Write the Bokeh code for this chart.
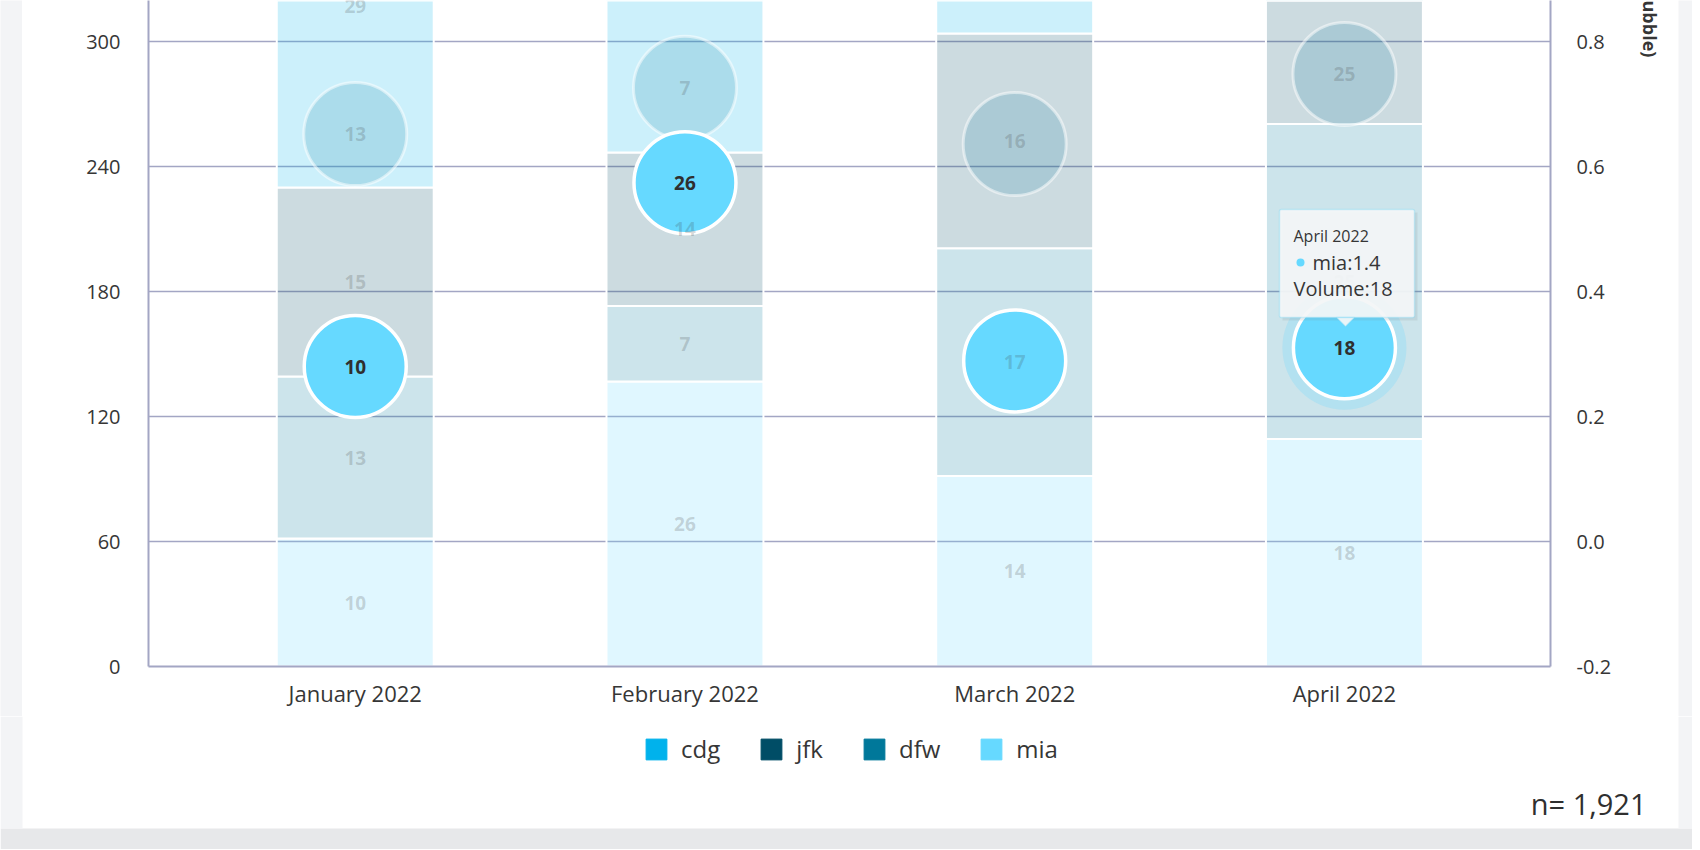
import numpy as np
from bokeh.plotting import figure
from bokeh.layouts import column, row
from bokeh.models import (ColumnDataSource, Range1d, LinearAxis, FixedTicker,
                          PrintfTickFormatter, Legend, LegendItem, Label,
                          BoxAnnotation, PolyAnnotation)
from bokeh.core.properties import value
from bokeh.embed import file_html
from bokeh.resources import INLINE

months = ["January 2022", "February 2022", "March 2022", "April 2022"]
series = ["cdg", "jfk", "dfw", "mia"]
series_colors = {"cdg": "#00b2ec", "jfk": "#004d66", "dfw": "#00789a", "mia": "#66d9ff"}

# stacked bar segments (left axis units), mia at the bottom, cdg on top
mia_bar = [61.4, 136.8, 91.5, 109.2]
dfw_bar = [77.8, 36.3, 109.3, 151.2]
jfk_bar = [90.7, 73.6, 103.0, 130.0]
cdg_bar = [174.0, 165.0, 70.0, 60.0]

# volumes shown as data labels
mia_volume = [10, 26, 14, 18]
dfw_volume = [13, 7, 17, 25]
jfk_volume = [15, 14, 16, 21]
cdg_volume = [29, 31, 11, 10]

# bubble positions on the right axis
mia_bubble = [0.280, 0.574, 0.289, 0.310]
dfw_bubble = [0.652, 0.726, 0.636, 0.748]

hidden_bubble_labels = ["March 2022"]  # dropped by label collision

tooltip_month = "April 2022"
tooltip_series = "mia"
tooltip_value = 1.4
n_total = "1,921"

FONT = "Open Sans"
TEXT = "#363636"
LINE = "#a3a6c4"
PAGE = "#f3f4f6"
OFF_X = 22      # grey strip left of the card
TOP_H = 716     # height of the chart row
LOW_H = 133     # legend / footer strip

x = np.arange(len(months))

p = figure(frame_width=1402, frame_height=666, x_range=Range1d(-0.627, 3.625), y_range=Range1d(0, 319.7),
           output_backend="svg", toolbar_location=None, frame_align=False,
           min_border_top=0, min_border_left=148 - OFF_X, min_border_right=128,
           min_border_bottom=TOP_H - 666,
           border_fill_color="white", background_fill_color="white", outline_line_color=None)
p.extra_y_ranges = {"right": Range1d(-0.2, 0.8657)}

# stacked bars, all in the faded (inactive) state
stack = [("mia", mia_bar, mia_volume), ("dfw", dfw_bar, dfw_volume),
         ("jfk", jfk_bar, jfk_volume), ("cdg", cdg_bar, cdg_volume)]
base = np.zeros(len(months))
seg_x, seg_y, seg_t = [], [], []
for name, h, n in stack:
    top = base + np.array(h)
    src = ColumnDataSource(dict(x=x, bottom=base, top=top))
    p.vbar(x="x", bottom="bottom", top="top", width=0.476, source=src,
           fill_color=series_colors[name], fill_alpha=0.2, line_color="white", line_width=2)
    seg_x += list(x)
    seg_y += list((base + top) / 2)
    seg_t += [str(v) for v in n]
    base = top

# faded dfw bubbles
p.scatter(x=x, y=dfw_bubble, y_range_name="right", size=103, fill_color=series_colors["dfw"],
          fill_alpha=0.16, line_color="white", line_alpha=0.5, line_width=3)

# hovered halo + active mia bubbles
hi = months.index(tooltip_month)
p.scatter(x=[x[hi]], y=[mia_bubble[hi]], y_range_name="right", size=124,
          fill_color=series_colors["mia"], fill_alpha=0.25, line_color=None)
p.scatter(x=x, y=mia_bubble, y_range_name="right", size=102, fill_color=series_colors["mia"],
          line_color="white", line_width=3.5)

# segment labels (faded)
p.text(x=seg_x, y=seg_y, text=seg_t, text_align="center", text_baseline="middle",
       text_font=value(FONT), text_font_style="bold", text_font_size="19px",
       text_color=TEXT, text_alpha=0.2)

shown = [m not in hidden_bubble_labels for m in months]
p.text(x=[x[i] for i in range(len(months)) if shown[i]],
       y=[dfw_bubble[i] for i in range(len(months)) if shown[i]],
       text=[str(dfw_volume[i]) for i in range(len(months)) if shown[i]],
       y_range_name="right", text_align="center", text_baseline="middle",
       text_font=value(FONT), text_font_style="bold", text_font_size="19px",
       text_color=TEXT, text_alpha=0.2)
p.text(x=[x[i] for i in range(len(months)) if shown[i]],
       y=[mia_bubble[i] for i in range(len(months)) if shown[i]],
       text=[str(mia_volume[i]) for i in range(len(months)) if shown[i]],
       y_range_name="right", text_align="center", text_baseline="middle",
       text_font=value(FONT), text_font_style="bold", text_font_size="19px",
       text_color="#2f2f2f")

# axes
p.xaxis.ticker = FixedTicker(ticks=list(x))
p.xaxis.major_label_overrides = {int(i): m for i, m in zip(x, months)}
p.yaxis.ticker = FixedTicker(ticks=[0, 60, 120, 180, 240, 300])
p.ygrid.ticker = FixedTicker(ticks=[0, 60, 120, 180, 240, 300])
p.xgrid.visible = False
p.ygrid.grid_line_color = LINE
p.ygrid.grid_line_width = 1.5

ry = LinearAxis(y_range_name="right", ticker=FixedTicker(ticks=[-0.2, 0.0, 0.2, 0.4, 0.6, 0.8]),
                formatter=PrintfTickFormatter(format="%.1f"),
                axis_label="mia (Bubble)", axis_label_align="end")
p.add_layout(ry, "right")

for ax in [p.xaxis[0], p.yaxis[0], ry]:
    ax.axis_line_color = LINE
    ax.axis_line_width = 2
    ax.major_tick_line_color = None
    ax.minor_tick_line_color = None
    ax.major_label_text_font = FONT
    ax.major_label_text_font_size = "20px"
    ax.major_label_text_color = TEXT
p.xaxis.major_label_text_font_size = "22px"
p.xaxis.major_label_standoff = 5
p.yaxis.major_label_standoff = 22
ry.major_label_standoff = 20
ry.axis_label_standoff = 24
ry.axis_label_text_font = FONT
ry.axis_label_text_font_size = "18px"
ry.axis_label_text_font_style = "bold"
ry.axis_label_text_color = TEXT

# hover tooltip on the April mia bubble (canvas px)
def cbox(l, r, t, b, **kw):
    return BoxAnnotation(left=l - OFF_X, right=r - OFF_X, top=t, bottom=b, left_units="canvas",
                         right_units="canvas", top_units="canvas", bottom_units="canvas",
                         level="overlay", **kw)

p.add_layout(cbox(1282, 1417, 212, 320, fill_color="#7a8790", fill_alpha=0.16, line_color=None))
p.add_layout(cbox(1279, 1414, 209, 317, fill_color="#f4f6f8", fill_alpha=0.93,
                  line_color="#72d8f8", line_width=1.5, border_radius=2))
p.add_layout(PolyAnnotation(xs=[1336 - OFF_X, 1354 - OFF_X, 1345 - OFF_X], ys=[317, 317, 326],
                            xs_units="canvas", ys_units="canvas", level="overlay",
                            fill_color="#f4f6f8", fill_alpha=0.93, line_color="#72d8f8", line_width=1.5))
p.add_layout(cbox(1296, 1304, 258, 266, fill_color=series_colors[tooltip_series], fill_alpha=1,
                  line_color=None, border_radius=4))
tip_lines = [(1293, 235, tooltip_month, "16px"),
             (1312, 262, "%s:%s" % (tooltip_series, tooltip_value), "20px"),
             (1293, 288, "Volume:%d" % mia_volume[hi], "20px")]
for tx, ty, tt, fs in tip_lines:
    p.add_layout(Label(x=tx - OFF_X, y=ty, x_units="canvas", y_units="canvas", text=tt, level="overlay",
                       text_baseline="middle", text_font=FONT, text_font_size=fs, text_color=TEXT))


def strip(w, h):
    s = figure(width=w, height=h, output_backend="svg", toolbar_location=None, frame_align=False,
               x_axis_location=None, y_axis_location=None, min_border=0, outline_line_color=None,
               background_fill_color=PAGE, border_fill_color=PAGE)
    s.grid.visible = False
    return s


# lower strip: legend, n label and the grey page floor
lf = figure(width=1692, height=LOW_H, x_range=Range1d(0, 1692), y_range=Range1d(0, LOW_H),
            output_backend="svg", toolbar_location=None, x_axis_location=None, y_axis_location=None,
            frame_align=False, min_border=0, outline_line_color=None,
            border_fill_color="white", background_fill_color="white")
lf.grid.visible = False
lf.add_layout(BoxAnnotation(left=0, right=1692, bottom=0, top=21, fill_color="#e7e8ea", fill_alpha=1,
                            line_color=None, level="underlay"))
lf.add_layout(BoxAnnotation(left=1678, right=1692, bottom=21, top=LOW_H, fill_color=PAGE, fill_alpha=1,
                            line_color=None, level="underlay"))
lf.add_layout(BoxAnnotation(left=0, right=OFF_X, bottom=21, top=LOW_H, fill_color=PAGE, fill_alpha=1,
                            line_color=None, level="underlay"))

legend_items = []
for s in series:
    r = lf.vbar(x=[np.nan], top=[np.nan], width=0.5, fill_color=series_colors[s], line_color=series_colors[s])
    legend_items.append(LegendItem(label=s, renderers=[r]))
legend = Legend(items=legend_items, orientation="horizontal", location=(643, 84),
                glyph_width=26, glyph_height=26, label_standoff=12, spacing=38,
                label_text_font=FONT, label_text_font_size="24px", label_text_color=TEXT,
                border_line_color=None, background_fill_alpha=0, padding=0, margin=0)
lf.add_layout(legend)

lf.add_layout(Label(x=1646, y=46, text="n= " + n_total, text_align="right", text_baseline="middle",
                    text_font=FONT, text_font_size="29px", text_color="#2f2f2f"))

layout = column(row(strip(OFF_X, TOP_H), p, strip(14, TOP_H), spacing=0), lf, spacing=0)
open("out.html", "w").write(file_html(layout, INLINE))
